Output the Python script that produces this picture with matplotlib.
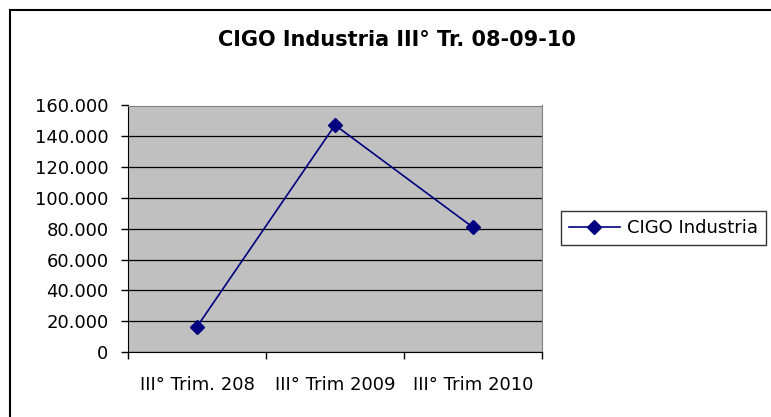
import matplotlib
matplotlib.use("Agg")
import matplotlib.pyplot as plt
from matplotlib.ticker import FuncFormatter
from matplotlib.patches import Rectangle

plt.rcParams['font.family'] = ['DejaVu Sans']

# data
categories = ['III° Trim. 208', 'III° Trim 2009', 'III° Trim 2010']
cigo_industria = [16400, 147300, 80900]
series_name = 'CIGO Industria'
title = 'CIGO Industria III° Tr. 08-09-10'
y_ticks = list(range(0, 160001, 20000))

W, H = 771, 417
fig = plt.figure(figsize=(W / 100, H / 100), dpi=100)

# chart outer border (Excel chart area), runs off the right and bottom edges
fig.patches.append(Rectangle((9.5 / W, -0.2), 1.2, 1.2 - 10 / H, transform=fig.transFigure,
                             fill=False, edgecolor='black', linewidth=1.5))

ax = fig.add_axes([128 / W, 65 / H, 414 / W, 246.5 / H])
ax.set_facecolor('#c0c0c0')

x = list(range(len(categories)))
ax.plot(x, cigo_industria, color='#000080', linewidth=1.2, marker='D',
        markersize=7.5, markerfacecolor='#000080', markeredgecolor='#000080',
        label=series_name, zorder=3)

ax.set_xlim(-0.5, len(categories) - 0.5)
ax.set_ylim(0, 160000)
ax.set_yticks(y_ticks)
ax.yaxis.set_major_formatter(FuncFormatter(lambda v, p: f'{int(v):,}'.replace(',', '.')))
ax.set_xticks(x)
ax.set_xticklabels(categories)
# category ticks sit between categories
ax.set_xticks([i - 0.5 for i in range(len(categories) + 1)], minor=True)
ax.tick_params(axis='x', which='major', length=0, pad=17, labelsize=13)
ax.tick_params(axis='x', which='minor', length=5, direction='out', width=1)
ax.tick_params(axis='y', length=5, direction='out', width=1, pad=9, labelsize=13)

ax.grid(axis='y', color='black', linewidth=0.9)
ax.set_axisbelow(True)
for s in ['top', 'right']:
    ax.spines[s].set_color('#808080')
for s in ['left', 'bottom']:
    ax.spines[s].set_color('black')

fig.text(397 / W, 1 - 40 / H, title, ha='center', va='center',
         fontsize=15, fontweight='bold')

leg = ax.legend(loc='center left', bbox_to_anchor=(561 / W, 1 - 228 / H),
                bbox_transform=fig.transFigure, frameon=True, fancybox=False,
                fontsize=13, handlelength=2.8, borderpad=0.45, handletextpad=0.4,
                borderaxespad=0)
leg.get_frame().set_edgecolor('black')
leg.get_frame().set_linewidth(1)

fig.savefig('out.png', dpi=100)
